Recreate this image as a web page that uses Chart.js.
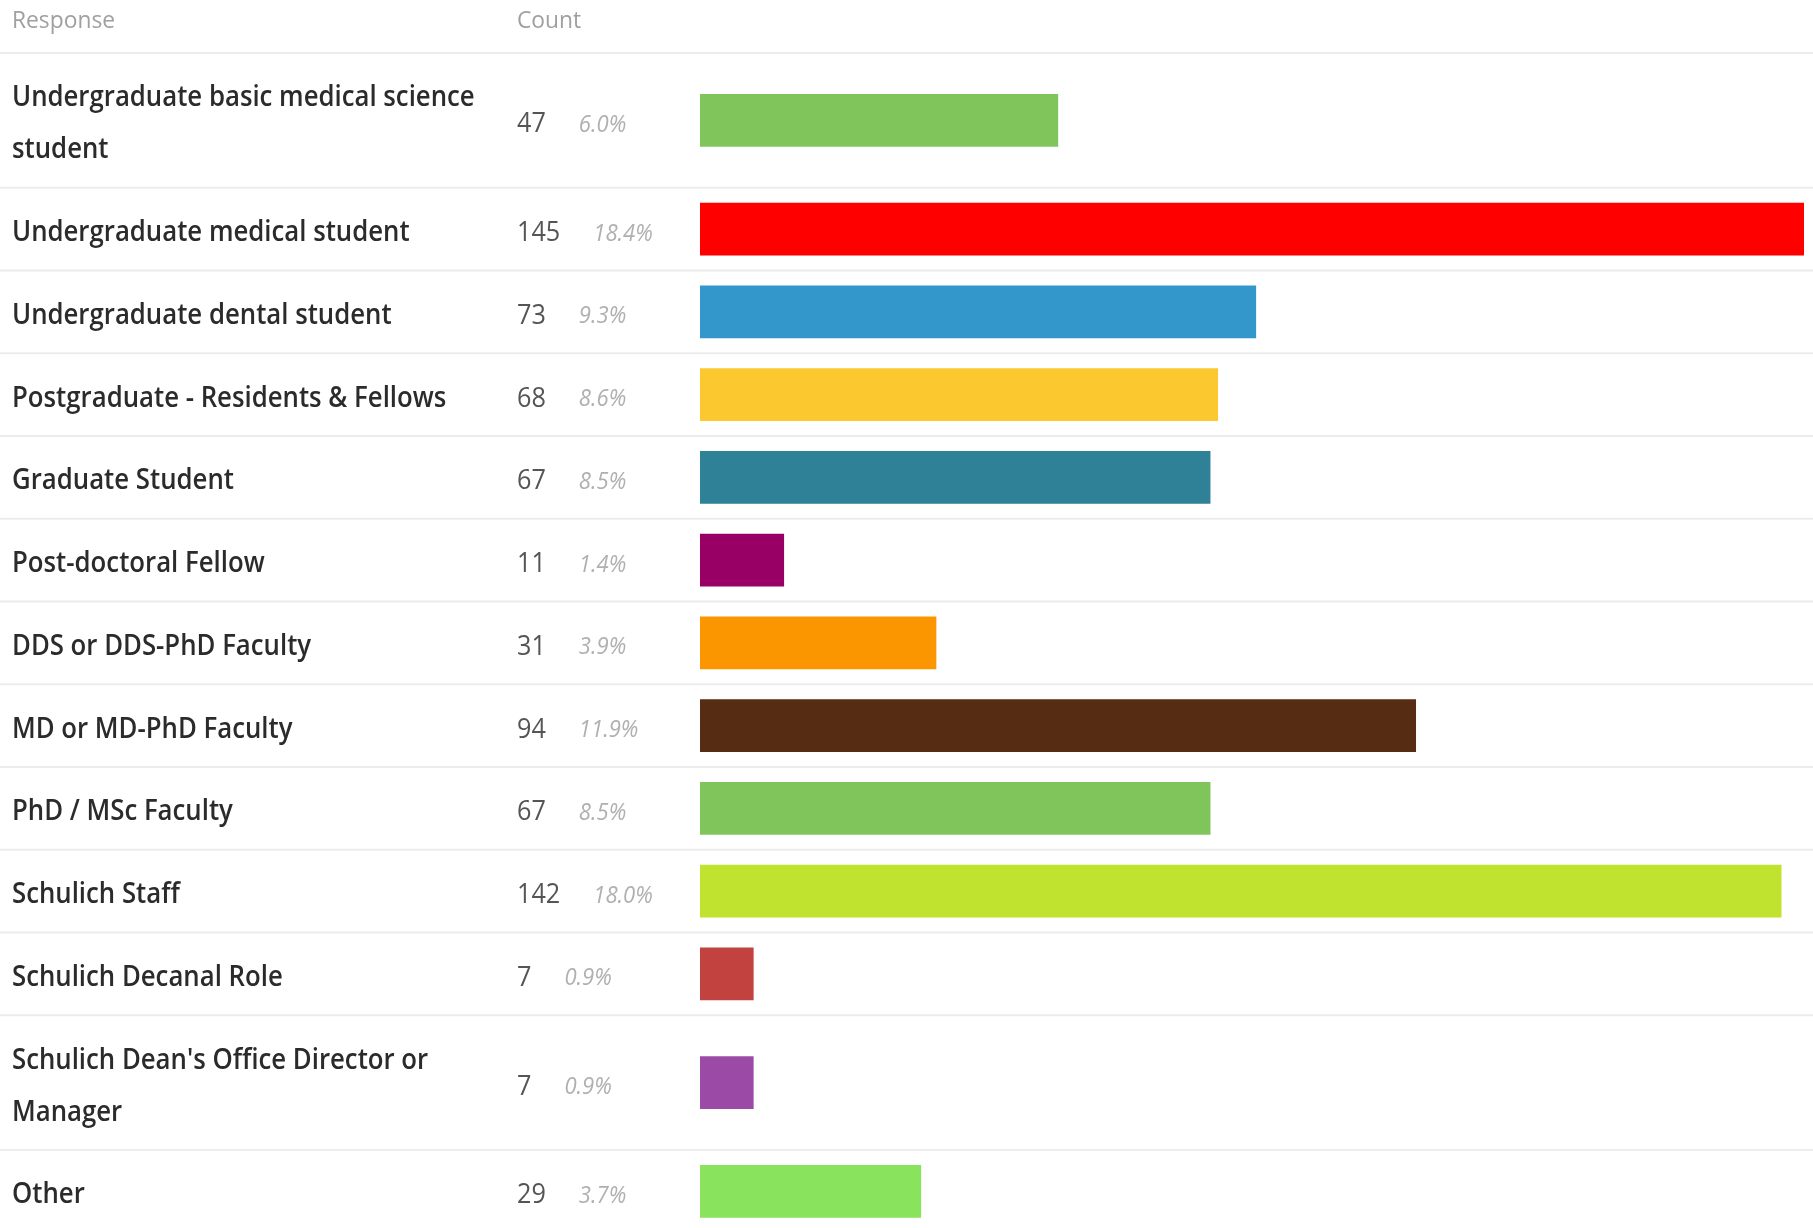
<!DOCTYPE html>
<html>
<head>
<meta charset="utf-8">
<script src="https://cdn.jsdelivr.net/npm/chart.js@4.4.1/dist/chart.umd.min.js"></script>
<style>
  html, body { margin: 0; padding: 0; background: #fff; }
  #wrap { width: 1813px; height: 1228px; position: relative; }
</style>
</head>
<body>
<div id="wrap"><canvas id="responseChart"></canvas></div>
<script>
// survey responses
const responses = [
  "Undergraduate basic medical science student",
  "Undergraduate medical student",
  "Undergraduate dental student",
  "Postgraduate - Residents & Fellows",
  "Graduate Student",
  "Post-doctoral Fellow",
  "DDS or DDS-PhD Faculty",
  "MD or MD-PhD Faculty",
  "PhD / MSc Faculty",
  "Schulich Staff",
  "Schulich Decanal Role",
  "Schulich Dean's Office Director or Manager",
  "Other"
];
const counts = [47, 145, 73, 68, 67, 11, 31, 94, 67, 142, 7, 7, 29];
const percents = ["6.0%", "18.4%", "9.3%", "8.6%", "8.5%", "1.4%", "3.9%", "11.9%", "8.5%", "18.0%", "0.9%", "0.9%", "3.7%"];
const headers = ["Response", "Count"];

const barColors = ["#80c45c", "#ff0000", "#3497cc", "#fbc82f", "#2e8196", "#990066", "#fb9600",
                   "#562d12", "#80c45c", "#bfe32f", "#c1423f", "#9b4ba5", "#8ae35c"];

// layout
const W = 1813, H = 1228;
const HEADER_H = 53, ROW_PAD = 30.75, LINE_H = 52;
const LABEL_FONT = "600 28px 'Open Sans'";
const LABEL_SX = 0.92; // text in the source is a bit narrow
const LABEL_MAX = 490;
const TEXT_DY = 4;

// wrap the labels like the table column does
const measureCtx = document.createElement("canvas").getContext("2d");
measureCtx.font = LABEL_FONT;
function wrap(text) {
  const words = text.split(" ");
  const lines = [];
  let cur = "";
  words.forEach(w => {
    const test = cur ? cur + " " + w : w;
    if (measureCtx.measureText(test).width * LABEL_SX > LABEL_MAX && cur) {
      lines.push(cur);
      cur = w;
    } else {
      cur = test;
    }
  });
  lines.push(cur);
  return lines;
}
const labelLines = responses.map(wrap);

// row boundaries / centers from the number of label lines
const rowTops = [];
const rowCenters = [];
let y = HEADER_H;
labelLines.forEach(lines => {
  const h = ROW_PAD + LINE_H * lines.length;
  rowTops.push(y);
  rowCenters.push(y + h / 2);
  y += h;
});

function drawText(ctx, txt, x, y, font, color, sx) {
  ctx.save();
  ctx.font = font;
  ctx.fillStyle = color;
  ctx.translate(x, y);
  ctx.scale(sx, 1);
  ctx.fillText(txt, 0, 0);
  const w = ctx.measureText(txt).width * sx;
  ctx.restore();
  return w;
}

const tablePlugin = {
  id: "tableText",
  beforeDatasetsDraw(chart) {
    const ctx = chart.ctx;
    ctx.save();
    ctx.strokeStyle = "#ececec";
    ctx.lineWidth = 2;
    rowTops.forEach(t => {
      const py = chart.scales.y.getPixelForValue(t);
      ctx.beginPath();
      ctx.moveTo(0, py);
      ctx.lineTo(W, py);
      ctx.stroke();
    });
    ctx.restore();
  },
  afterDraw(chart) {
    const ctx = chart.ctx;
    const ys = chart.scales.y;
    ctx.save();
    ctx.textBaseline = "middle";
    ctx.textAlign = "left";

    // header
    drawText(ctx, headers[0], 12, 21, "24px 'Open Sans'", "#a0a0a0", 0.95);
    drawText(ctx, headers[1], 517, 21, "24px 'Open Sans'", "#a0a0a0", 0.95);

    responses.forEach((r, i) => {
      const cy = ys.getPixelForValue(rowCenters[i]) + TEXT_DY;
      const lines = labelLines[i];
      lines.forEach((ln, k) => {
        drawText(ctx, ln, 12, cy + (k - (lines.length - 1) / 2) * LINE_H, LABEL_FONT, "#2b2b2b", LABEL_SX);
      });
      const cw = drawText(ctx, String(counts[i]), 517, cy, "28px 'Open Sans'", "#555", 0.9);
      drawText(ctx, percents[i], 517 + cw + 33, cy + 1, "italic 23px 'Open Sans'", "#b0b0b0", 0.96);
    });
    ctx.restore();
  }
};

new Chart(document.getElementById("responseChart"), {
  type: "bar",
  data: {
    datasets: [{
      data: counts.map((v, i) => ({ x: v, y: rowCenters[i] })),
      backgroundColor: barColors,
      borderWidth: 0,
      barThickness: 52
    }]
  },
  options: {
    indexAxis: "y",
    responsive: true,
    maintainAspectRatio: false,
    animation: false,
    devicePixelRatio: 1,
    layout: { padding: { left: 700, right: 9, top: 0, bottom: 0 } },
    scales: {
      x: { type: "linear", min: 0, max: 145, display: false },
      y: { type: "linear", min: 0, max: H, reverse: true, offset: false, display: false }
    },
    plugins: {
      legend: { display: false },
      tooltip: { enabled: false }
    }
  },
  plugins: [tablePlugin]
});
</script>
</body>
</html>
